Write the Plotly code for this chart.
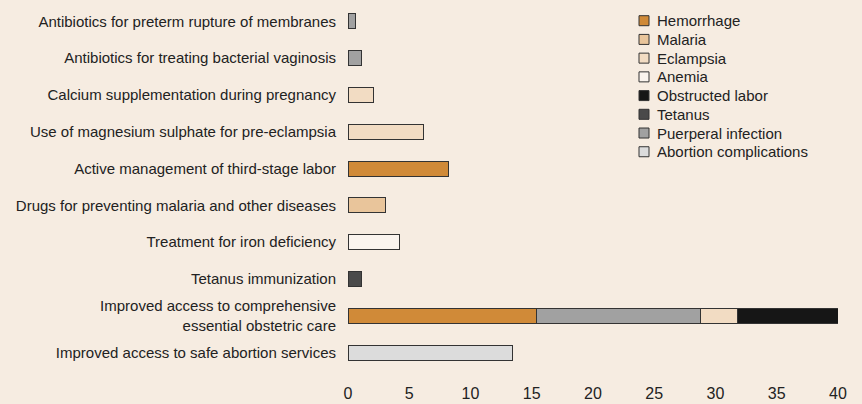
import plotly.graph_objects as go

categories = [
    "Antibiotics for preterm rupture of membranes",
    "Antibiotics for treating bacterial vaginosis",
    "Calcium supplementation during pregnancy",
    "Use of magnesium sulphate for pre-eclampsia",
    "Active management of third-stage labor",
    "Drugs for preventing malaria and other diseases",
    "Treatment for iron deficiency",
    "Tetanus immunization",
    "Improved access to comprehensive<br>essential obstetric care",
    "Improved access to safe abortion services",
]

# values per cause (None = no bar)
hemorrhage = [None, None, None, None, 8.2, None, None, None, 15.4, None]
puerperal = [0.6, 1.1, None, None, None, None, None, None, 13.4, None]
eclampsia = [None, None, 2.1, 6.2, None, None, None, None, 3.0, None]
obstructed = [None, None, None, None, None, None, None, None, 8.2, None]
malaria = [None, None, None, None, None, 3.1, None, None, None, None]
anemia = [None, None, None, None, None, None, 4.2, None, None, None]
tetanus = [None, None, None, None, None, None, None, 1.1, None, None]
abortion = [None, None, None, None, None, None, None, None, None, 13.4]

x_ticks = [0, 5, 10, 15, 20, 25, 30, 35, 40]

legend_order = ["Hemorrhage", "Malaria", "Eclampsia", "Anemia", "Obstructed labor",
                "Tetanus", "Puerperal infection", "Abortion complications"]

series = [
    ("Hemorrhage", hemorrhage, "#D08A38"),
    ("Puerperal infection", puerperal, "#A1A1A1"),
    ("Eclampsia", eclampsia, "#F2DCC3"),
    ("Obstructed labor", obstructed, "#161616"),
    ("Malaria", malaria, "#E9C59B"),
    ("Anemia", anemia, "#FAF4EE"),
    ("Tetanus", tetanus, "#4A4A4A"),
    ("Abortion complications", abortion, "#DCDCDC"),
]
colors = {n: c for n, _, c in series}

BG = "#F6ECE1"
W, H = 862, 404
ML, MR, MT, MB = 348, 24, 3, 33
PW, PH = W - ML - MR, H - MT - MB

fig = go.Figure()
for name, vals, color in series:
    fig.add_trace(go.Bar(
        y=categories, x=vals, name=name, orientation="h",
        marker=dict(color=color, line=dict(color="#333333", width=1)),
        width=0.41, showlegend=False,
    ))

# legend drawn as key squares + labels (layout, not data)
def px_x(p):
    return (p - ML) / PW

def px_y(p):
    return (H - MB - p) / PH

shapes, annotations = [], []
for i, name in enumerate(legend_order):
    cy = 20.7 + i * 18.72
    shapes.append(dict(type="rect", xref="paper", yref="paper",
                       x0=px_x(639), x1=px_x(649), y0=px_y(cy + 5), y1=px_y(cy - 5),
                       fillcolor=colors[name], line=dict(color="#333333", width=1)))
    annotations.append(dict(text=name, xref="paper", yref="paper", x=px_x(655),
                            y=px_y(cy), xanchor="left", yanchor="middle",
                            showarrow=False, font=dict(size=15, color="#222222")))

fig.update_layout(
    barmode="stack",
    width=W, height=H,
    paper_bgcolor=BG, plot_bgcolor=BG,
    margin=dict(l=ML, r=MR, t=MT, b=MB, autoexpand=False),
    font=dict(family="Liberation Sans, Arial, sans-serif", size=15, color="#222222"),
    showlegend=False,
    shapes=shapes,
    annotations=annotations,
    xaxis=dict(range=[0, 40], tickvals=x_ticks, showgrid=False, zeroline=False,
               showline=False, ticks="outside", ticklen=8, tickcolor="rgba(0,0,0,0)",
               tickfont=dict(size=16, color="#222222"), fixedrange=True),
    yaxis=dict(autorange="reversed", showgrid=False, zeroline=False, showline=False,
               ticks="outside", ticklen=8, tickcolor="rgba(0,0,0,0)",
               tickfont=dict(size=15, color="#222222"), fixedrange=True),
)

fig.write_html("out.html", config={"displayModeBar": False},
               post_script="document.body.style.margin='0';")
